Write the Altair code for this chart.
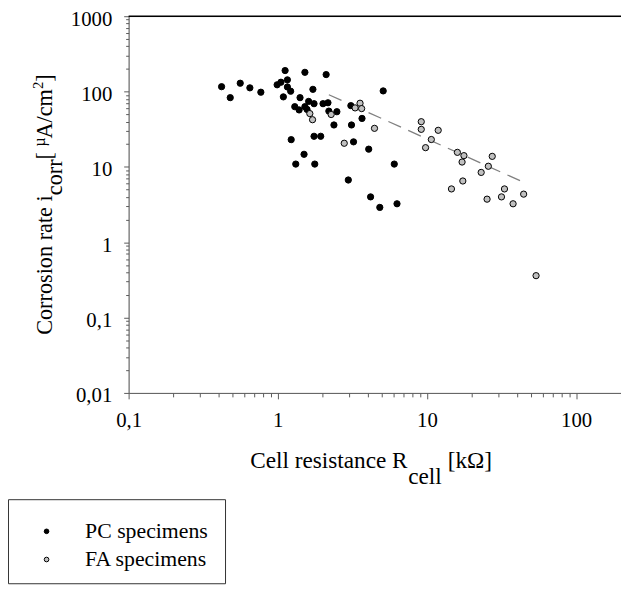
import altair as alt
import pandas as pd

# ---------------- data ----------------
pc_x = [0.42, 0.48, 0.56, 0.65, 0.77, 0.99, 1.05, 1.12, 1.16, 1.16, 1.22, 1.09,
        1.52, 1.72, 1.41, 1.30, 1.39, 1.52, 1.61, 1.75, 1.57, 2.11, 2.01, 2.17,
        2.20, 2.49, 2.38, 3.12, 3.09, 5.09, 3.67, 1.23, 1.75, 1.94, 3.22, 4.07,
        6.04, 1.50, 1.32, 1.77, 2.97, 4.19, 4.83, 6.30]
pc_y = [116, 83, 129, 112, 98, 123, 133, 190, 143, 115, 101, 85,
        180, 107, 83, 63, 57, 63, 74, 69, 58, 168, 69, 71,
        55, 54, 36, 36, 65, 102, 44, 23, 25.5, 25.5, 21.5, 17.2,
        10.9, 14.7, 10.9, 10.9, 6.7, 4.0, 2.9, 3.24]

fa_x = [1.64, 1.71, 2.28, 2.79, 3.30, 3.56, 3.65, 4.45, 9.16, 9.16, 11.9, 10.7,
        9.79, 16.0, 17.7, 17.2, 27.4, 25.8, 23.1, 17.4, 14.6, 33.1, 44.5, 31.6,
        25.3, 37.8, 53.9]
fa_y = [51, 42.3, 49.6, 20.6, 60.7, 70, 59.4, 32.5, 39.8, 31.5, 30.6, 23.1,
        18.0, 15.6, 14.1, 11.6, 13.8, 10.2, 8.45, 6.5, 5.1, 5.1, 4.35, 4.0,
        3.73, 3.24, 0.36]

trend_x = [2.2, 43.3]
trend_y = [90.8, 6.4]

series_names = ["PC specimens", "FA specimens"]
series_colors = ["#000000", "#c0c0c0"]

x_major = [0.1, 1, 10, 100]
y_major = [0.01, 0.1, 1, 10, 100, 1000]
x_minor = [0.2, 0.3, 0.4, 0.5, 0.6, 0.7, 0.8, 0.9, 2, 3, 4, 5, 6, 7, 8, 9,
           20, 30, 40, 50, 60, 70, 80, 90, 200]
y_minor = [0.02, 0.03, 0.04, 0.05, 0.06, 0.07, 0.08, 0.09,
           0.2, 0.3, 0.4, 0.5, 0.6, 0.7, 0.8, 0.9,
           2, 3, 4, 5, 6, 7, 8, 9, 20, 30, 40, 50, 60, 70, 80, 90,
           200, 300, 400, 500, 600, 700, 800, 900]

# ---------------- layout ----------------
W, H = 498, 381
PAD_L, PAD_T = 122, 5
FONT = "Liberation Serif"
TITLE_SIZE = 22.5
TICK_SIZE_FONT = 21

# Times / Liberation Serif advance widths (1/1000 em)
ADV = {"C": 667, "o": 500, "r": 333, "s": 389, "i": 278, "n": 500, " ": 250,
       "a": 444, "t": 278, "e": 444, "c": 444, "[": 333, "µ": 500, "A": 722,
       "/": 278, "m": 778, "2": 500, "]": 333, "l": 278, "R": 667, "k": 500,
       "Ω": 768}


def text_w(s, size):
    return sum(ADV.get(ch, 500) for ch in s) * size / 1000.0


points = pd.DataFrame({
    "R": pc_x + fa_x,
    "i": pc_y + fa_y,
    "series": [series_names[0]] * len(pc_x) + [series_names[1]] * len(fa_x),
})
trend = pd.DataFrame({"R": trend_x, "i": trend_y})

xscale = alt.Scale(type="log", domain=[0.1, 200], nice=False)
yscale = alt.Scale(type="log", domain=[0.01, 1000], nice=False)

label_expr = "replace(format(datum.value, '~g'), '.', ',')"
AX_COLOR = "#5a5a5a"

x_major_axis = alt.Axis(values=x_major, title=None, orient="bottom", grid=False,
                        labelExpr=label_expr, labelFont=FONT,
                        labelFontSize=TICK_SIZE_FONT, labelColor="black",
                        labelPadding=11, tickSize=6, tickColor=AX_COLOR,
                        domainColor=AX_COLOR, labelFlush=False, labelOverlap=False)
y_major_axis = alt.Axis(values=y_major, title=None, orient="left", grid=False,
                        labelExpr=label_expr, labelFont=FONT,
                        labelFontSize=TICK_SIZE_FONT, labelColor="black",
                        labelBaseline="alphabetic", labelOffset=9,
                        labelPadding=12, tickSize=5, tickColor=AX_COLOR,
                        domainColor=AX_COLOR, labelFlush=False, labelOverlap=False)
x_minor_axis = alt.Axis(values=x_minor, title=None, orient="bottom", grid=False,
                        labels=False, domain=False, tickSize=4, tickColor=AX_COLOR)
y_minor_axis = alt.Axis(values=y_minor, title=None, orient="left", grid=False,
                        labels=False, domain=False, tickSize=3, tickColor=AX_COLOR)

trend_layer = alt.Chart(trend).mark_line(
    color="#808080", strokeDash=[14, 8], strokeWidth=1.3
).encode(
    x=alt.X("R:Q", scale=xscale, axis=x_minor_axis),
    y=alt.Y("i:Q", scale=yscale, axis=y_minor_axis),
)

point_layer = alt.Chart(points).mark_point(
    shape="circle", filled=True, size=40, stroke="black", strokeWidth=1, opacity=1
).encode(
    x=alt.X("R:Q", scale=xscale, axis=x_major_axis),
    y=alt.Y("i:Q", scale=yscale, axis=y_major_axis),
    fill=alt.Fill("series:N",
                  scale=alt.Scale(domain=series_names, range=series_colors),
                  legend=alt.Legend(title=None, orient="none", legendX=-94,
                                    legendY=510, symbolType="circle",
                                    symbolSize=22, symbolStrokeColor="black",
                                    symbolStrokeWidth=1, labelFont=FONT,
                                    labelFontSize=22, labelColor="black",
                                    labelOffset=28, rowPadding=6.5, padding=0)),
)

one = pd.DataFrame({"d": [0]})

# legend box (page coords 8..228 x 502..587)
legend_box = alt.Chart(one).mark_rect(
    fill="white", stroke="#333333", strokeWidth=1
).encode(x=alt.value(8.5 - 8 - PAD_L), x2=alt.value(228 - 8 - PAD_L),
         y=alt.value(502 - 8 - PAD_T), y2=alt.value(587 - 8 - PAD_T))

# top frame line
top_line = alt.Chart(one).mark_rule(color="black", strokeWidth=1.5).encode(
    x=alt.value(0), x2=alt.value(W), y=alt.value(0)
)

layers = [legend_box, trend_layer, point_layer, top_line]

# ---- x axis title with subscript (cumulative layout from page x=253) ----
xt_parts = [("Cell resistance R", 23.5, 0, 0), ("cell", 23.5, 16, 0.5),
            ("[kΩ]", 23.5, 0, 6)]
cx = 253 - 8 - PAD_L
for s, fs, dy, gap in xt_parts:
    cx += gap
    layers.append(
        alt.Chart(pd.DataFrame({"t": [s]})).mark_text(
            font=FONT, fontSize=fs, align="left", baseline="alphabetic",
            color="black"
        ).encode(x=alt.value(cx), y=alt.value(470 - 8 - PAD_T + dy), text="t:N")
    )
    cx += text_w(s, fs)

# ---- y axis title with subscript / superscripts ----
yt_parts = [("Corrosion rate i", TITLE_SIZE, 0), ("corr", TITLE_SIZE, 10),
            (" [", TITLE_SIZE, 0), ("µ", 16, -8), ("A/cm", TITLE_SIZE, 0),
            ("2", 15, -10), ("]", TITLE_SIZE, 0)]
yt_total = sum(text_w(s, fs) for s, fs, _ in yt_parts)
cy = H / 2 + yt_total / 2
for s, fs, dx in yt_parts:
    layers.append(
        alt.Chart(pd.DataFrame({"t": [s]})).mark_text(
            font=FONT, fontSize=fs, align="left", baseline="alphabetic",
            angle=270, color="black"
        ).encode(x=alt.value(-77 + dx), y=alt.value(cy), text="t:N")
    )
    cy -= text_w(s, fs)

chart = alt.layer(*layers).resolve_axis(
    x="independent", y="independent"
).properties(
    width=W, height=H,
    autosize=alt.AutoSizeParams(type="none"),
    padding={"left": PAD_L, "top": PAD_T, "right": 0, "bottom": 194},
).configure_view(stroke="#d4d4d4", strokeWidth=1)

chart.save("out.html", embed_options={"renderer": "svg", "actions": False})
